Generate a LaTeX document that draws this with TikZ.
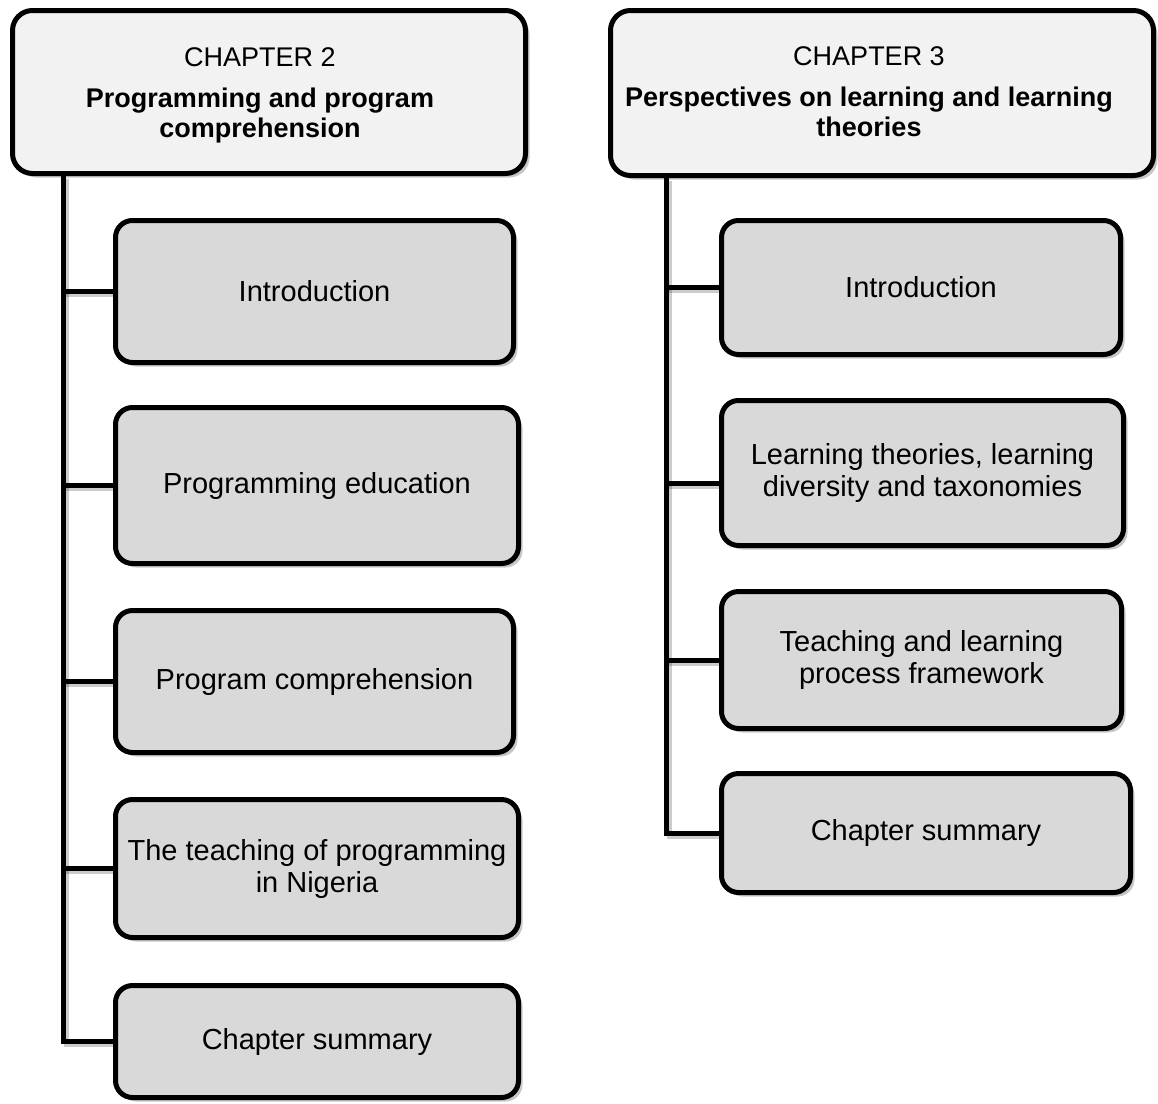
\documentclass[tikz,border=0pt]{standalone}
\usepackage{fontspec}
\setmainfont{Liberation Sans}
\usetikzlibrary{shadows}
\definecolor{headfill}{HTML}{F2F2F2}
\definecolor{itemfill}{HTML}{D9D9D9}

\begin{document}
\begin{tikzpicture}[x=1pt,y=-1pt,
  boxshadow/.style={drop shadow={shadow xshift=4pt, shadow yshift=-4pt, fill=black, opacity=0.22}},
  headbox/.style={draw=black, line width=5pt, rounded corners=20pt, fill=headfill, boxshadow, inner sep=0pt},
  headtext/.style={font=\fontsize{27}{30}\selectfont, align=center, inner sep=0pt},
  itembox/.style={draw=black, line width=5pt, rounded corners=17pt, fill=itemfill, boxshadow,
    font=\fontsize{29}{32}\selectfont, align=center, inner sep=0pt},
  link/.style={draw=black, line width=5pt,
    preaction={draw=black, opacity=0.2, line width=5pt, transform canvas={shift={(3pt,-3pt)}}}}]

\useasboundingbox (0,0) rectangle (1158,1103);

% ---- Chapter 2 ----
\node[headbox, minimum width=513pt, minimum height=163pt] (lh) at (269,92) {};
\node[headtext] (lht) at (260,95) {CHAPTER 2\\[11pt]\textbf{Programming and program}\\\textbf{comprehension}};

\node[itembox, minimum width=398pt, minimum height=142pt] (l1) at (314.5,291.5) {Introduction};
\node[itembox, minimum width=403pt, minimum height=156pt] (l2) at (317,485.5) {Programming education};
\node[itembox, minimum width=398pt, minimum height=142pt] (l3) at (314.5,681.5) {Program comprehension};
\node[itembox, minimum width=403pt, minimum height=138pt] (l4) at (317,868.5) {The teaching of programming\\in Nigeria};
\node[itembox, minimum width=403pt, minimum height=112pt] (l5) at (317,1041.5) {Chapter summary};

\coordinate (lspine) at (63,0);

% ---- Chapter 3 ----
\node[headbox, minimum width=543pt, minimum height=165pt] (rh) at (882,93) {};
\node[headtext] (rht) at (869,92) {CHAPTER 3\\[11pt]\textbf{Perspectives on learning and learning}\\\textbf{theories}};

\node[itembox, minimum width=399pt, minimum height=134pt] (r1) at (921,287.5) {Introduction};
\node[itembox, minimum width=402pt, minimum height=145pt] (r2) at (922.5,473) {Learning theories, learning\\diversity and taxonomies};
\node[itembox, minimum width=400pt, minimum height=137pt] (r3) at (921.5,660) {Teaching and learning\\process framework};
\node[itembox, minimum width=409pt, minimum height=119pt] (r4) at (926,833) {Chapter summary};

\coordinate (rspine) at (666,0);

% ---- connectors: spine from each chapter box, one branch per section ----
\draw[link] (lh.south -| lspine) |- (l5.west);
\foreach \b in {l1,l2,l3,l4} \draw[link] (\b.west -| lspine) -- (\b.west);
\draw[link] (rh.south -| rspine) |- (r4.west);
\draw[link] (r1.west -| rspine) -- (r1.west);
\draw[link] ([yshift=-10pt]r2.west -| rspine) -- ([yshift=-10pt]r2.west);
\draw[link] (r3.west -| rspine) -- (r3.west);
\end{tikzpicture}
\end{document}
